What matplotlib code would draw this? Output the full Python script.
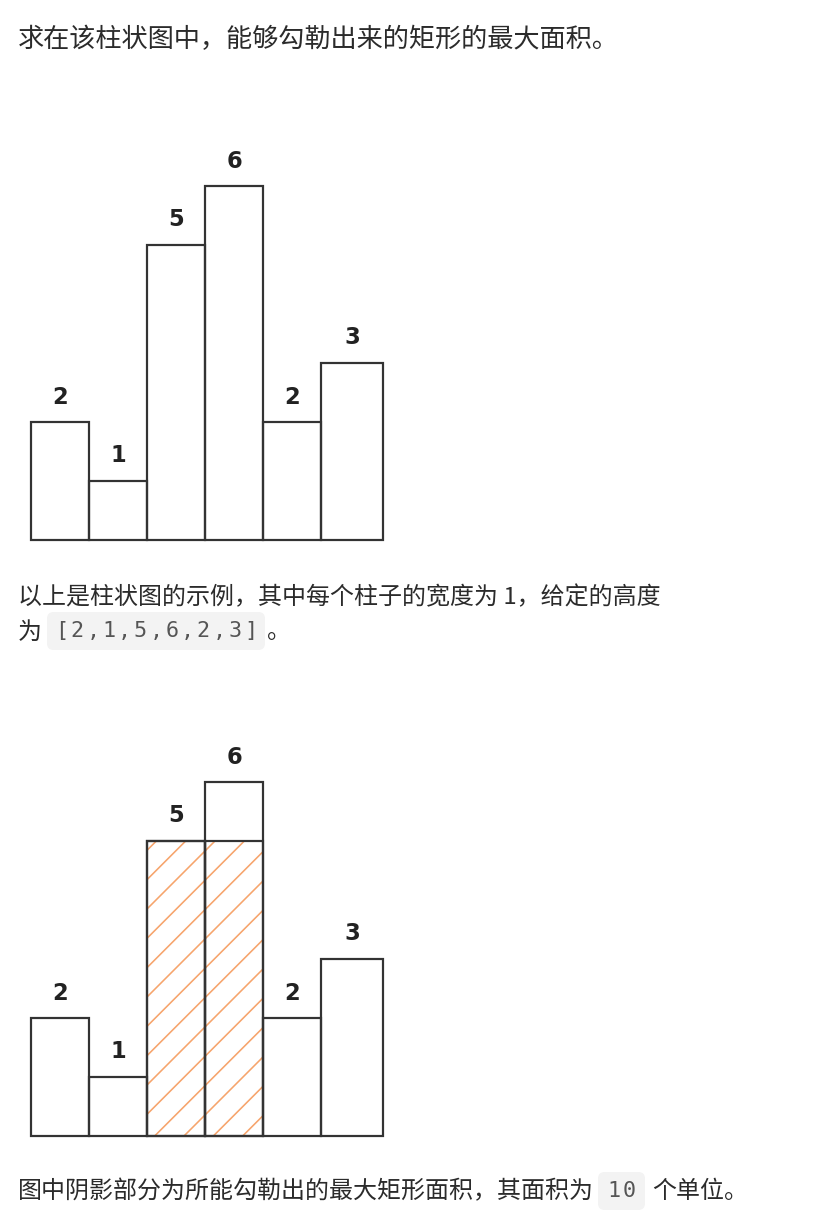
import matplotlib
matplotlib.use("Agg")
import matplotlib.pyplot as plt
from matplotlib.patches import FancyBboxPatch

heights = [2, 1, 5, 6, 2, 3]
labels = ["2", "1", "5", "6", "2", "3"]
highlight_idx = [2, 3]
highlight_height = 5

title_text = "求在该柱状图中，能够勾勒出来的矩形的最大面积。"
desc_line1 = "以上是柱状图的示例，其中每个柱子的宽度为 1，给定的高度"
desc_prefix = "为"
desc_code = "[2,1,5,6,2,3]"
desc_suffix = "。"
result_prefix = "图中阴影部分为所能勾勒出的最大矩形面积，其面积为"
result_code = "10"
result_suffix = "个单位。"

DPI = 88
W, H = 814, 1226

def pt(px):
    """convert a size in pixels to points"""
    return px * 72 / DPI

plt.rcParams['font.family'] = ['Noto Sans CJK SC', 'DejaVu Sans']
plt.rcParams['hatch.linewidth'] = pt(1.6)

fig = plt.figure(figsize=(W / DPI, H / DPI), dpi=DPI)
fig.patch.set_facecolor('white')

def fx(x):
    return x / W

def fy(y):
    return 1 - y / H

TXT = '#2b2b2b'
EDGE = '#333333'
HATCH = '#f6a46c'
UNIT_Y = 59.0
UNIT_X = 58.0
LEFT = 31
YMAX = 7
# last column is drawn a little wider in the original picture
bar_widths = [1, 1, 1, 1, 1, 62 / 58]

def make_axes(base_y):
    ax = fig.add_axes([fx(LEFT), 1 - base_y / H, UNIT_X * len(heights) / W, YMAX * UNIT_Y / H])
    ax.set_xlim(0, len(heights))
    ax.set_ylim(0, YMAX)
    ax.axis('off')
    return ax

def draw_bars(ax, highlight=False):
    xs = list(range(len(heights)))
    lw = pt(2.2)
    if highlight:
        ax.bar(highlight_idx, [highlight_height] * len(highlight_idx), width=1.0, align='edge',
               fill=False, edgecolor=HATCH, linewidth=0, hatch='/', zorder=1)
    ax.bar(xs, heights, width=bar_widths, align='edge', fill=False, edgecolor=EDGE,
           linewidth=lw, zorder=2, clip_on=False)
    if highlight:
        ax.bar(highlight_idx, [highlight_height] * len(highlight_idx), width=1.0, align='edge',
               fill=False, edgecolor=EDGE, linewidth=lw, zorder=3, clip_on=False)
    for x, h, lab, w in zip(xs, heights, labels, bar_widths):
        ax.annotate(lab, (x + w / 2, h), xytext=(0, pt(25)), textcoords='offset points',
                    ha='center', va='center', fontsize=pt(22.6), fontweight='bold',
                    color='#222222', family='DejaVu Sans')

ax1 = make_axes(540)
draw_bars(ax1, highlight=False)
ax2 = make_axes(1136)
draw_bars(ax2, highlight=True)

def code_span(text, x0, x1, y0, y1, pitch=15.8):
    box = FancyBboxPatch((fx(x0), fy(y1)), fx(x1 - x0), (y1 - y0) / H,
                         boxstyle='round,pad=0,rounding_size=0.008',
                         transform=fig.transFigure, fc='#f3f3f3', ec='none',
                         mutation_aspect=W / H)
    fig.add_artist(box)
    cx = (x0 + x1) / 2
    cy = (y0 + y1) / 2
    n = len(text)
    for i, ch in enumerate(text):
        px = cx + (i - (n - 1) / 2) * pitch
        fig.text(fx(px), fy(cy), ch, fontsize=pt(21.7), color='#555555', va='center', ha='center',
                 family='DejaVu Sans Mono')

FS = pt(24.0)
fig.text(fx(18), fy(40), title_text, fontsize=pt(26.2), color=TXT, va='center', ha='left')
fig.text(fx(18), fy(597), desc_line1, fontsize=FS, color=TXT, va='center', ha='left')
fig.text(fx(18), fy(632), desc_prefix, fontsize=FS, color=TXT, va='center', ha='left')
code_span(desc_code, 47, 265, 612, 650)
fig.text(fx(267), fy(632), desc_suffix, fontsize=FS, color=TXT, va='center', ha='left')
fig.text(fx(18), fy(1192), result_prefix, fontsize=FS, color=TXT, va='center', ha='left')
code_span(result_code, 598, 645, 1172, 1210)
fig.text(fx(652), fy(1192), result_suffix, fontsize=FS, color=TXT, va='center', ha='left')

fig.savefig('out.png', dpi=DPI)
